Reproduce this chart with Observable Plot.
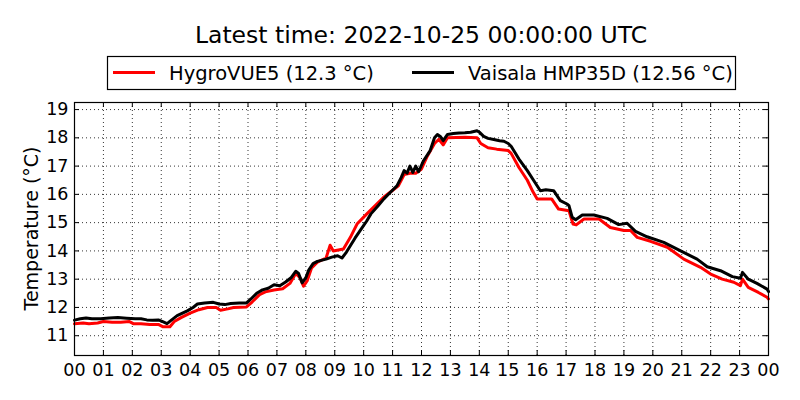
<!DOCTYPE html>
<html><head><meta charset="utf-8">
<script src="https://cdn.jsdelivr.net/npm/d3@7"></script>
<script src="https://cdn.jsdelivr.net/npm/@observablehq/plot@0.6"></script>
<style>body{margin:0;background:#fff;}</style>
</head><body><div id="chart"></div>
<script>
const titleText = "Latest time: 2022-10-25 00:00:00 UTC";
const yLabel = "Temperature (°C)";
const seriesNames = ["HygroVUE5", "Vaisala HMP35D"];
const seriesColors = ["red", "black"];
const hourTicks = [0,1,2,3,4,5,6,7,8,9,10,11,12,13,14,15,16,17,18,19,20,21,22,23,24];
const tempTicks = [11,12,13,14,15,16,17,18,19];

const hygroHours = [0.0,0.3,0.5,0.8,1.0,1.3,1.6,1.9,2.05,2.3,2.6,2.9,3.05,3.3,3.45,3.7,4.0,4.3,4.6,4.9,5.05,5.3,5.5,5.95,6.15,6.4,6.6,6.9,7.2,7.45,7.65,7.8,7.92,8.05,8.2,8.4,8.7,8.84,8.95,9.3,9.54,9.77,10.11,10.4,10.69,10.95,11.2,11.4,11.6,11.8,12.0,12.2,12.45,12.6,12.75,12.9,13.5,13.92,14.05,14.3,14.6,15.0,15.1,15.37,15.66,15.85,16.0,16.5,16.74,17.1,17.24,17.35,17.62,18.14,18.53,19.0,19.23,19.46,19.92,20.5,21.07,21.65,22.0,22.4,22.8,23.03,23.1,23.3,23.65,23.95,24.0];
const hygroTemps = [11.42,11.45,11.42,11.45,11.5,11.48,11.48,11.5,11.42,11.42,11.4,11.4,11.32,11.32,11.5,11.65,11.8,11.92,12.0,12.0,11.9,11.95,12.0,12.02,12.2,12.45,12.55,12.62,12.66,12.85,13.2,13.05,12.75,12.95,13.4,13.6,13.75,14.2,14.0,14.07,14.48,14.95,15.31,15.6,15.9,16.1,16.3,16.7,16.75,16.75,16.9,17.35,17.8,17.95,17.75,18.0,18.02,18.0,17.8,17.65,17.6,17.55,17.45,16.95,16.5,16.1,15.84,15.84,15.48,15.42,14.95,14.92,15.13,15.13,14.83,14.72,14.72,14.48,14.34,14.13,13.71,13.42,13.18,13.0,12.89,12.77,13.0,12.71,12.53,12.36,12.3];

const vaisalaHours = [0.0,0.2,0.4,0.6,0.9,1.2,1.5,1.8,2.1,2.3,2.5,2.7,2.9,3.05,3.2,3.35,3.55,3.9,4.1,4.25,4.5,4.8,5.0,5.2,5.4,5.7,5.95,6.1,6.3,6.5,6.7,6.9,7.1,7.3,7.5,7.65,7.75,7.87,8.0,8.1,8.25,8.4,8.7,8.9,9.1,9.25,9.4,9.55,9.7,9.9,10.1,10.25,10.5,10.7,10.9,11.15,11.3,11.4,11.5,11.6,11.7,11.8,11.9,12.07,12.3,12.45,12.55,12.65,12.75,12.9,13.1,13.3,13.5,13.7,13.92,14.0,14.15,14.3,14.5,14.7,14.85,15.0,15.1,15.37,15.66,15.88,16.11,16.3,16.57,16.8,17.03,17.1,17.21,17.33,17.56,17.96,18.42,18.82,19.11,19.4,19.8,20.38,20.96,21.53,21.88,22.34,22.75,23.03,23.1,23.3,23.6,23.95,24.0];
const vaisalaTemps = [11.55,11.6,11.63,11.6,11.6,11.63,11.64,11.62,11.6,11.6,11.56,11.55,11.56,11.5,11.43,11.55,11.71,11.88,12.0,12.12,12.16,12.18,12.12,12.1,12.14,12.16,12.16,12.3,12.5,12.62,12.68,12.8,12.77,12.9,13.06,13.28,13.2,12.87,13.05,13.32,13.55,13.63,13.71,13.78,13.83,13.75,13.95,14.2,14.45,14.75,15.05,15.31,15.6,15.84,16.05,16.3,16.6,16.84,16.75,17.0,16.78,17.0,16.8,17.19,17.55,18.0,18.12,18.05,17.9,18.12,18.15,18.17,18.18,18.2,18.25,18.2,18.05,17.98,17.94,17.9,17.88,17.8,17.7,17.25,16.84,16.49,16.13,16.16,16.13,15.78,15.66,15.6,15.19,15.1,15.27,15.27,15.15,14.93,14.98,14.69,14.5,14.3,14.0,13.71,13.44,13.3,13.09,13.03,13.24,13.0,12.85,12.65,12.56];

const W = 800, H = 400, mL = 74, mR = 32, mT = 102, mB = 45;
const innerW = W - mL - mR, innerH = H - mT - mB;
const fmtHour = d => String(d % 24).padStart(2, "0");

const hygro = hygroHours.map((h, i) => ({h, t: hygroTemps[i]}));
const vaisala = vaisalaHours.map((h, i) => ({h, t: vaisalaTemps[i]}));

const plot = Plot.plot({
  width: W, height: H,
  marginLeft: mL, marginRight: mR, marginTop: mT, marginBottom: mB,
  style: {fontFamily: "DejaVu Sans", fontSize: "17px", background: "white", color: "black"},
  x: {domain: [0, 24]},
  y: {domain: [10.3, 19.25]},
  marks: [
    Plot.gridX(hourTicks, {stroke: "black", strokeOpacity: 1, strokeWidth: 0.8, strokeDasharray: "1,3"}),
    Plot.gridY(tempTicks, {stroke: "black", strokeOpacity: 1, strokeWidth: 0.8, strokeDasharray: "1,3"}),
    Plot.axisX(hourTicks, {tickSize: 0, tickPadding: 8, tickFormat: fmtHour, label: null, fontSize: 17.5}),
    Plot.axisY(tempTicks, {tickSize: 0, tickPadding: 6, label: null, fontSize: 17.5}),
    Plot.tickX(hourTicks, {x: d => d, insetTop: innerH - 5, stroke: "black"}),
    Plot.tickX(hourTicks, {x: d => d, insetBottom: innerH - 5, stroke: "black"}),
    Plot.tickY(tempTicks, {y: d => d, insetRight: innerW - 5, stroke: "black"}),
    Plot.tickY(tempTicks, {y: d => d, insetLeft: innerW - 5, stroke: "black"}),
    Plot.line(hygro, {x: "h", y: "t", stroke: seriesColors[0], strokeWidth: 3}),
    Plot.line(vaisala, {x: "h", y: "t", stroke: seriesColors[1], strokeWidth: 3}),
    Plot.frame({stroke: "black", strokeWidth: 1.2})
  ]
});
document.getElementById("chart").appendChild(plot);

const svg = d3.select(plot);
svg.append("text").attr("x", (mL + W - mR) / 2).attr("y", 43)
  .attr("text-anchor", "middle").attr("font-size", 23.5).attr("fill", "black").text(titleText);
svg.append("text").attr("transform", `translate(38,${mT + innerH / 2}) rotate(-90)`)
  .attr("text-anchor", "middle").attr("font-size", 19).attr("fill", "black").text(yLabel);

const lastVals = [hygroTemps[hygroTemps.length - 1], vaisalaTemps[vaisalaTemps.length - 1]];
const lg = svg.append("g");
lg.append("rect").attr("x", 107.5).attr("y", 56.5).attr("width", 628).attr("height", 33)
  .attr("fill", "white").attr("stroke", "black").attr("stroke-width", 1.2);
const lx = [113, 412];
seriesNames.forEach((n, i) => {
  lg.append("line").attr("x1", lx[i]).attr("x2", lx[i] + 42).attr("y1", 72.5).attr("y2", 72.5)
    .attr("stroke", seriesColors[i]).attr("stroke-width", 2.8);
  lg.append("text").attr("x", lx[i] + 56).attr("y", 79.5).attr("font-size", 19.5)
    .attr("text-anchor", "start").attr("fill", "black")
    .text(`${n} (${lastVals[i]} °C)`);
});
</script></body></html>
